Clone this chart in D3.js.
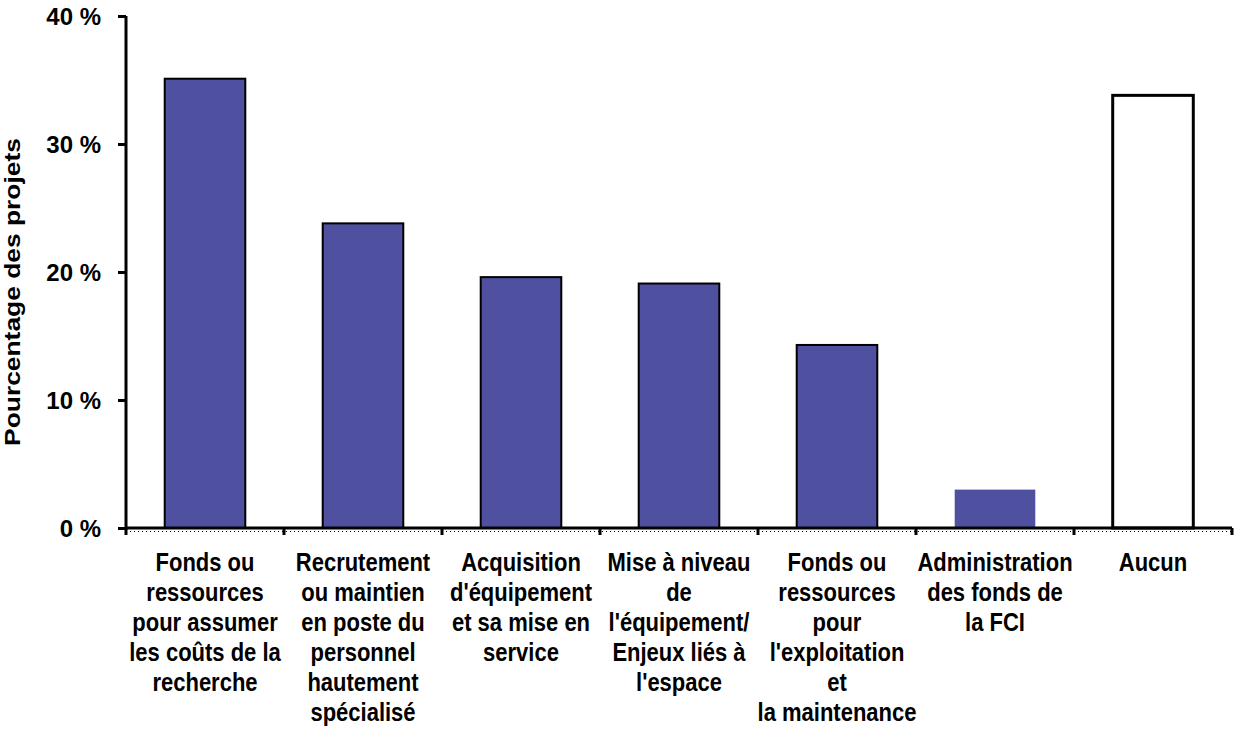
<!DOCTYPE html>
<html>
<head>
<meta charset="utf-8">
<script src="https://cdn.jsdelivr.net/npm/d3@7"></script>
<style>
  body { margin: 0; background: #fff; }
  text { font-family: "Liberation Sans", Arial, sans-serif; font-weight: bold; fill: #000; }
</style>
</head>
<body>
<div id="chart"></div>
<script>
'use strict';

// categories (one array of lines per bar, as wrapped in the original)
const categories = [
    ["Fonds ou", "ressources", "pour assumer", "les coûts de la", "recherche"],
    ["Recrutement", "ou maintien", "en poste du", "personnel", "hautement", "spécialisé"],
    ["Acquisition", "d'équipement", "et sa mise en", "service"],
    ["Mise à niveau", "de", "l'équipement/", "Enjeux liés à", "l'espace"],
    ["Fonds ou", "ressources", "pour", "l'exploitation", "et", "la maintenance"],
    ["Administration", "des fonds de", "la FCI"],
    ["Aucun"]
];
const values = [35.1, 23.8, 19.6, 19.1, 14.3, 3.0, 33.8];
const yTicks = [0, 10, 20, 30, 40];
const yTitle = "Pourcentage des projets";

const width = 1235, height = 732;
const margin = { top: 16, right: 3, bottom: 204, left: 126 };

const svg = d3.select("#chart").append("svg")
    .attr("width", width)
    .attr("height", height);

const x = d3.scaleBand()
    .domain(d3.range(categories.length))
    .range([margin.left, width - margin.right])
    .paddingInner(0.49)
    .paddingOuter(0.245);

const y = d3.scaleLinear()
    .domain([0, 40])
    .range([height - margin.bottom, margin.top]);

const y0 = y(0);

// bars
svg.selectAll(".bar").data(values).enter()
    .append("rect")
    .attr("class", "bar")
    .attr("x", function (d, i) { return x(i); })
    .attr("y", function (d) { return y(d); })
    .attr("width", x.bandwidth())
    .attr("height", function (d) { return y0 - y(d); })
    .style("fill", function (d, i) { return i === values.length - 1 ? "#ffffff" : "#5050a0"; })
    .style("stroke", function (d, i) { return i === 5 ? "none" : "#000"; })
    .style("stroke-width", function (d, i) { return i === values.length - 1 ? 3 : 2; });

// y axis
const yAxis = svg.append("g")
    .attr("transform", "translate(" + margin.left + ",0)")
    .call(d3.axisLeft(y).tickValues(yTicks).tickSize(8).tickPadding(17)
        .tickFormat(function (d) { return d + " %"; }));
yAxis.select(".domain").attr("stroke", "#000").attr("stroke-width", 3)
    .attr("d", "M0," + (y0 + 1.5) + "V" + margin.top);
yAxis.selectAll(".tick line").attr("stroke-width", 3);
yAxis.selectAll(".tick text")
    .style("font-size", "24px")
    .attr("dy", "0.36em");

// x axis: solid line, dotted line just below, ticks at band edges
const xEnd = width - margin.right;
svg.append("line")
    .attr("x1", margin.left).attr("x2", xEnd)
    .attr("y1", y0).attr("y2", y0)
    .attr("stroke", "#000").attr("stroke-width", 3);
svg.append("line")
    .attr("x1", margin.left).attr("x2", xEnd)
    .attr("y1", y0 + 3.5).attr("y2", y0 + 3.5)
    .attr("stroke", "#000").attr("stroke-width", 1)
    .attr("stroke-dasharray", "1,3");

const step = x.step();
const edges = d3.range(categories.length + 1).map(function (i) {
    return x(0) - x.paddingOuter() * step + i * step;
});
svg.selectAll(".xtick").data(edges).enter()
    .append("line")
    .attr("class", "xtick")
    .attr("x1", function (d) { return d; }).attr("x2", function (d) { return d; })
    .attr("y1", y0).attr("y2", y0 + 7)
    .attr("stroke", "#000").attr("stroke-width", 3);

// category labels (condensed like the original)
const lab = svg.selectAll(".cat").data(categories).enter()
    .append("text")
    .attr("class", "cat")
    .attr("text-anchor", "middle")
    .style("font-size", "25px")
    .attr("transform", function (d, i) {
        return "translate(" + (x(i) + x.bandwidth() / 2) + ",571) scale(0.88,1)";
    });
lab.selectAll("tspan").data(function (d) { return d; }).enter()
    .append("tspan")
    .attr("x", 0)
    .attr("y", function (d, i) { return i * 30; })
    .text(function (d) { return d; });

// y title
svg.append("text")
    .attr("transform", "translate(20,292) rotate(-90) scale(1.2,1)")
    .attr("text-anchor", "middle")
    .style("font-size", "22px")
    .text(yTitle);
</script>
</body>
</html>
